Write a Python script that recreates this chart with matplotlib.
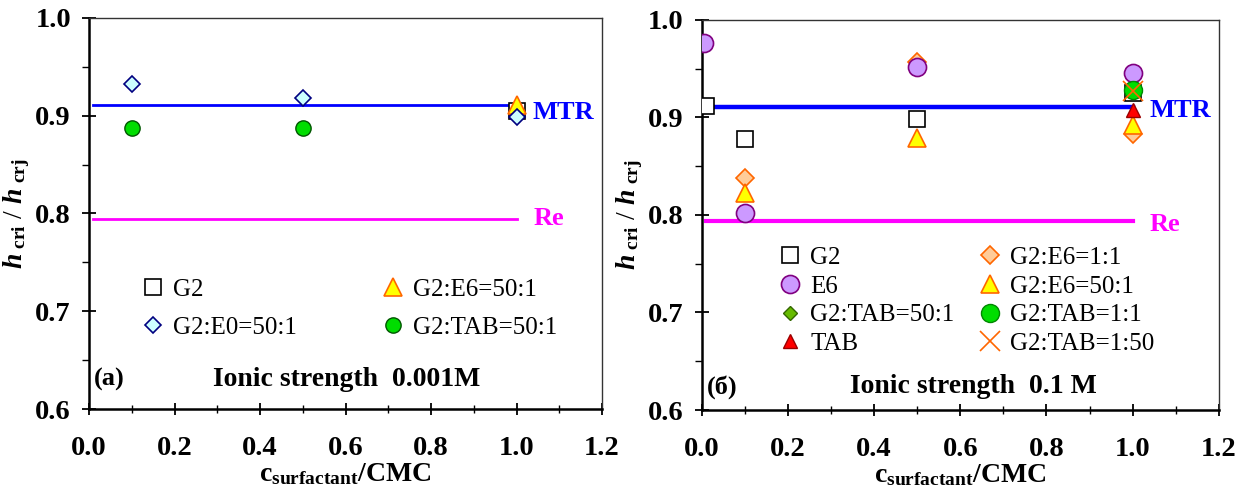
import matplotlib
matplotlib.use("Agg")
import matplotlib.pyplot as plt
from matplotlib.ticker import MultipleLocator

plt.rcParams['font.family'] = ['Liberation Serif', 'DejaVu Serif']
plt.rcParams['mathtext.fontset'] = 'custom'
plt.rcParams['mathtext.rm'] = 'Liberation Serif:bold'
plt.rcParams['mathtext.bf'] = 'Liberation Serif:bold'
plt.rcParams['mathtext.it'] = 'Liberation Serif:bold:italic'

# ---------------- data: panel (a), ionic strength 0.001 M ----------------
a_g2_x = [1.0]
a_g2_y = [0.905]
a_e0_x = [0.1, 0.5, 1.0]
a_e0_y = [0.932, 0.918, 0.899]
a_e6_x = [1.0]
a_e6_y = [0.911]
a_tab_x = [0.1, 0.5]
a_tab_y = [0.887, 0.887]

# ---------------- data: panel (б), ionic strength 0.1 M ----------------
b_g2_x = [0.01, 0.1, 0.5, 1.0]
b_g2_y = [0.912, 0.878, 0.898, 0.925]
b_e6_x = [0.005, 0.1, 0.5, 1.0]
b_e6_y = [0.976, 0.802, 0.952, 0.945]
b_e6_11_x = [0.1, 0.5, 1.0]
b_e6_11_y = [0.838, 0.957, 0.883]
b_e6_501_x = [0.1, 0.5, 1.0]
b_e6_501_y = [0.822, 0.879, 0.892]
b_tab501_x = [1.0]
b_tab501_y = [0.928]
b_tab11_x = [1.0]
b_tab11_y = [0.928]
b_tab_x = [1.0]
b_tab_y = [0.908]
b_tab150_x = [1.0]
b_tab150_y = [0.927]

# reference lines
mtr_y = 0.911
re_y = 0.794
line_x = [0.01, 1.0]

fig = plt.figure(figsize=(12.42, 4.94), dpi=100)
axA = fig.add_axes([0.0717, 0.172, 0.413, 0.792])
axB = fig.add_axes([0.565, 0.170, 0.4163, 0.790])


def style(ax):
    ax.set_xlim(0, 1.2)
    ax.set_ylim(0.6, 1.0)
    ax.xaxis.set_major_locator(MultipleLocator(0.2))
    ax.xaxis.set_minor_locator(MultipleLocator(0.1))
    ax.yaxis.set_major_locator(MultipleLocator(0.1))
    ax.yaxis.set_minor_locator(MultipleLocator(0.05))
    ax.tick_params(axis='x', which='major', direction='inout', length=9, width=1.3, pad=15, labelsize=20.5)
    ax.tick_params(axis='x', which='minor', direction='inout', length=6, width=1.0)
    ax.tick_params(axis='y', which='major', direction='inout', length=10, width=1.3, pad=8, labelsize=20.5)
    ax.tick_params(axis='y', which='minor', direction='out', length=5, width=1.0)
    for lab in ax.get_xticklabels() + ax.get_yticklabels():
        lab.set_fontweight('bold')
    ax.xaxis.set_major_formatter(matplotlib.ticker.FormatStrFormatter('%.1f'))
    ax.yaxis.set_major_formatter(matplotlib.ticker.FormatStrFormatter('%.1f'))
    for s in ['left', 'bottom']:
        ax.spines[s].set_linewidth(1.8)
    for s in ['top', 'right']:
        ax.spines[s].set_linewidth(1.0)
        ax.spines[s].set_color('#333333')
    ax.set_xlabel(r'c$_{\mathrm{surfactant}}$/CMC', fontsize=20, fontweight='bold', labelpad=0)
    ax.set_ylabel(r'$\mathit{h}$$_{\mathrm{\ cri}}$ / $\mathit{h}$$_{\mathrm{\ crj}}$', fontsize=20, labelpad=2)


style(axA)
style(axB)

# ---------------- panel (a) ----------------
axA.plot(line_x, [mtr_y, mtr_y], color='#0000FF', lw=2.0, zorder=2)
axA.plot(line_x, [re_y, re_y], color='#FF00FF', lw=2.0, zorder=2)
axA.text(1.037, 0.903, 'MTR', color='#0000FF', fontsize=19, fontweight='bold', va='center', ha='left')
axA.text(1.04, 0.795, 'Re', color='#FF00FF', fontsize=19, fontweight='bold', va='center', ha='left')

hA1, = axA.plot(a_g2_x, a_g2_y, ls='none', marker='s', ms=12, mfc='white', mec='black', mew=1.2, label='G2', zorder=3)
hA3, = axA.plot(a_e6_x, a_e6_y, ls='none', marker='^', ms=13, mfc='#FFFF00', mec='#FF6600', mew=1.2, label='G2:E6=50:1', zorder=4)
hA2, = axA.plot(a_e0_x, a_e0_y, ls='none', marker='D', ms=8.5, mfc='#CCFFFF', mec='#000080', mew=1.2, label='G2:E0=50:1', zorder=5)
hA4, = axA.plot(a_tab_x, a_tab_y, ls='none', marker='o', ms=11, mfc='#00DD00', mec='#005500', mew=1.0, label='G2:TAB=50:1', zorder=5)

axA.legend(handles=[hA1, hA2, hA3, hA4], ncol=2, loc='upper left', bbox_to_anchor=(0.085, 0.36),
           frameon=False, fontsize=18, handlelength=0.8, handletextpad=0.4, columnspacing=3.45,
           labelspacing=0.62, borderaxespad=0)

axA.text(0.01, 0.075, '(a)', transform=axA.transAxes, fontsize=19, fontweight='bold', va='center', ha='left')
axA.text(0.503, 0.075, 'Ionic strength  0.001M', transform=axA.transAxes, fontsize=20, fontweight='bold',
         va='center', ha='center')

# ---------------- panel (б) ----------------
axB.plot(line_x, [mtr_y, mtr_y], color='#0000FF', lw=3.2, zorder=2)
axB.plot(line_x, [re_y, re_y], color='#FF00FF', lw=3.0, zorder=2)
axB.text(1.04, 0.907, 'MTR', color='#0000FF', fontsize=19, fontweight='bold', va='center', ha='left')
axB.text(1.04, 0.79, 'Re', color='#FF00FF', fontsize=19, fontweight='bold', va='center', ha='left')

hB1, = axB.plot(b_g2_x, b_g2_y, ls='none', marker='s', ms=11, mfc='white', mec='black', mew=1.2, label='G2', zorder=3)
hB4, = axB.plot(b_e6_11_x, b_e6_11_y, ls='none', marker='D', ms=9.5, mfc='#FFCC99', mec='#FF6600', mew=1.2, label='G2:E6=1:1', zorder=3)
hB5, = axB.plot(b_e6_501_x, b_e6_501_y, ls='none', marker='^', ms=13, mfc='#FFFF00', mec='#FF6600', mew=1.2, label='G2:E6=50:1', zorder=4)
hB2, = axB.plot(b_e6_x, b_e6_y, ls='none', marker='o', ms=13, mfc='#CC99FF', mec='#800080', mew=1.2, label='E6', zorder=4)
hB3, = axB.plot(b_tab501_x, b_tab501_y, ls='none', marker='D', ms=7, mfc='#66BB00', mec='#336600', mew=1.0, label='G2:TAB=50:1', zorder=4)
hB6, = axB.plot(b_tab11_x, b_tab11_y, ls='none', marker='o', ms=13, mfc='#00DD00', mec='#008800', mew=1.0, label='G2:TAB=1:1', zorder=5)
hB7, = axB.plot(b_tab_x, b_tab_y, ls='none', marker='^', ms=10, mfc='#FF0000', mec='#990000', mew=1.0, label='TAB', zorder=5)
hB8, = axB.plot(b_tab150_x, b_tab150_y, ls='none', marker='x', ms=14, mec='#FF6600', mew=1.2, label='G2:TAB=1:50', zorder=6)

axB.legend(handles=[hB1, hB2, hB3, hB7, hB4, hB5, hB6, hB8], ncol=2, loc='upper left',
           bbox_to_anchor=(0.133, 0.445), frameon=False, fontsize=18, handlelength=0.8,
           handletextpad=0.4, columnspacing=1.0, labelspacing=0.25, borderaxespad=0)

axB.text(0.01, 0.06, '(б)', transform=axB.transAxes, fontsize=19, fontweight='bold', va='center', ha='left')
axB.text(0.525, 0.06, 'Ionic strength  0.1 M', transform=axB.transAxes, fontsize=20, fontweight='bold',
         va='center', ha='center')

fig.savefig('out.png', dpi=100)
